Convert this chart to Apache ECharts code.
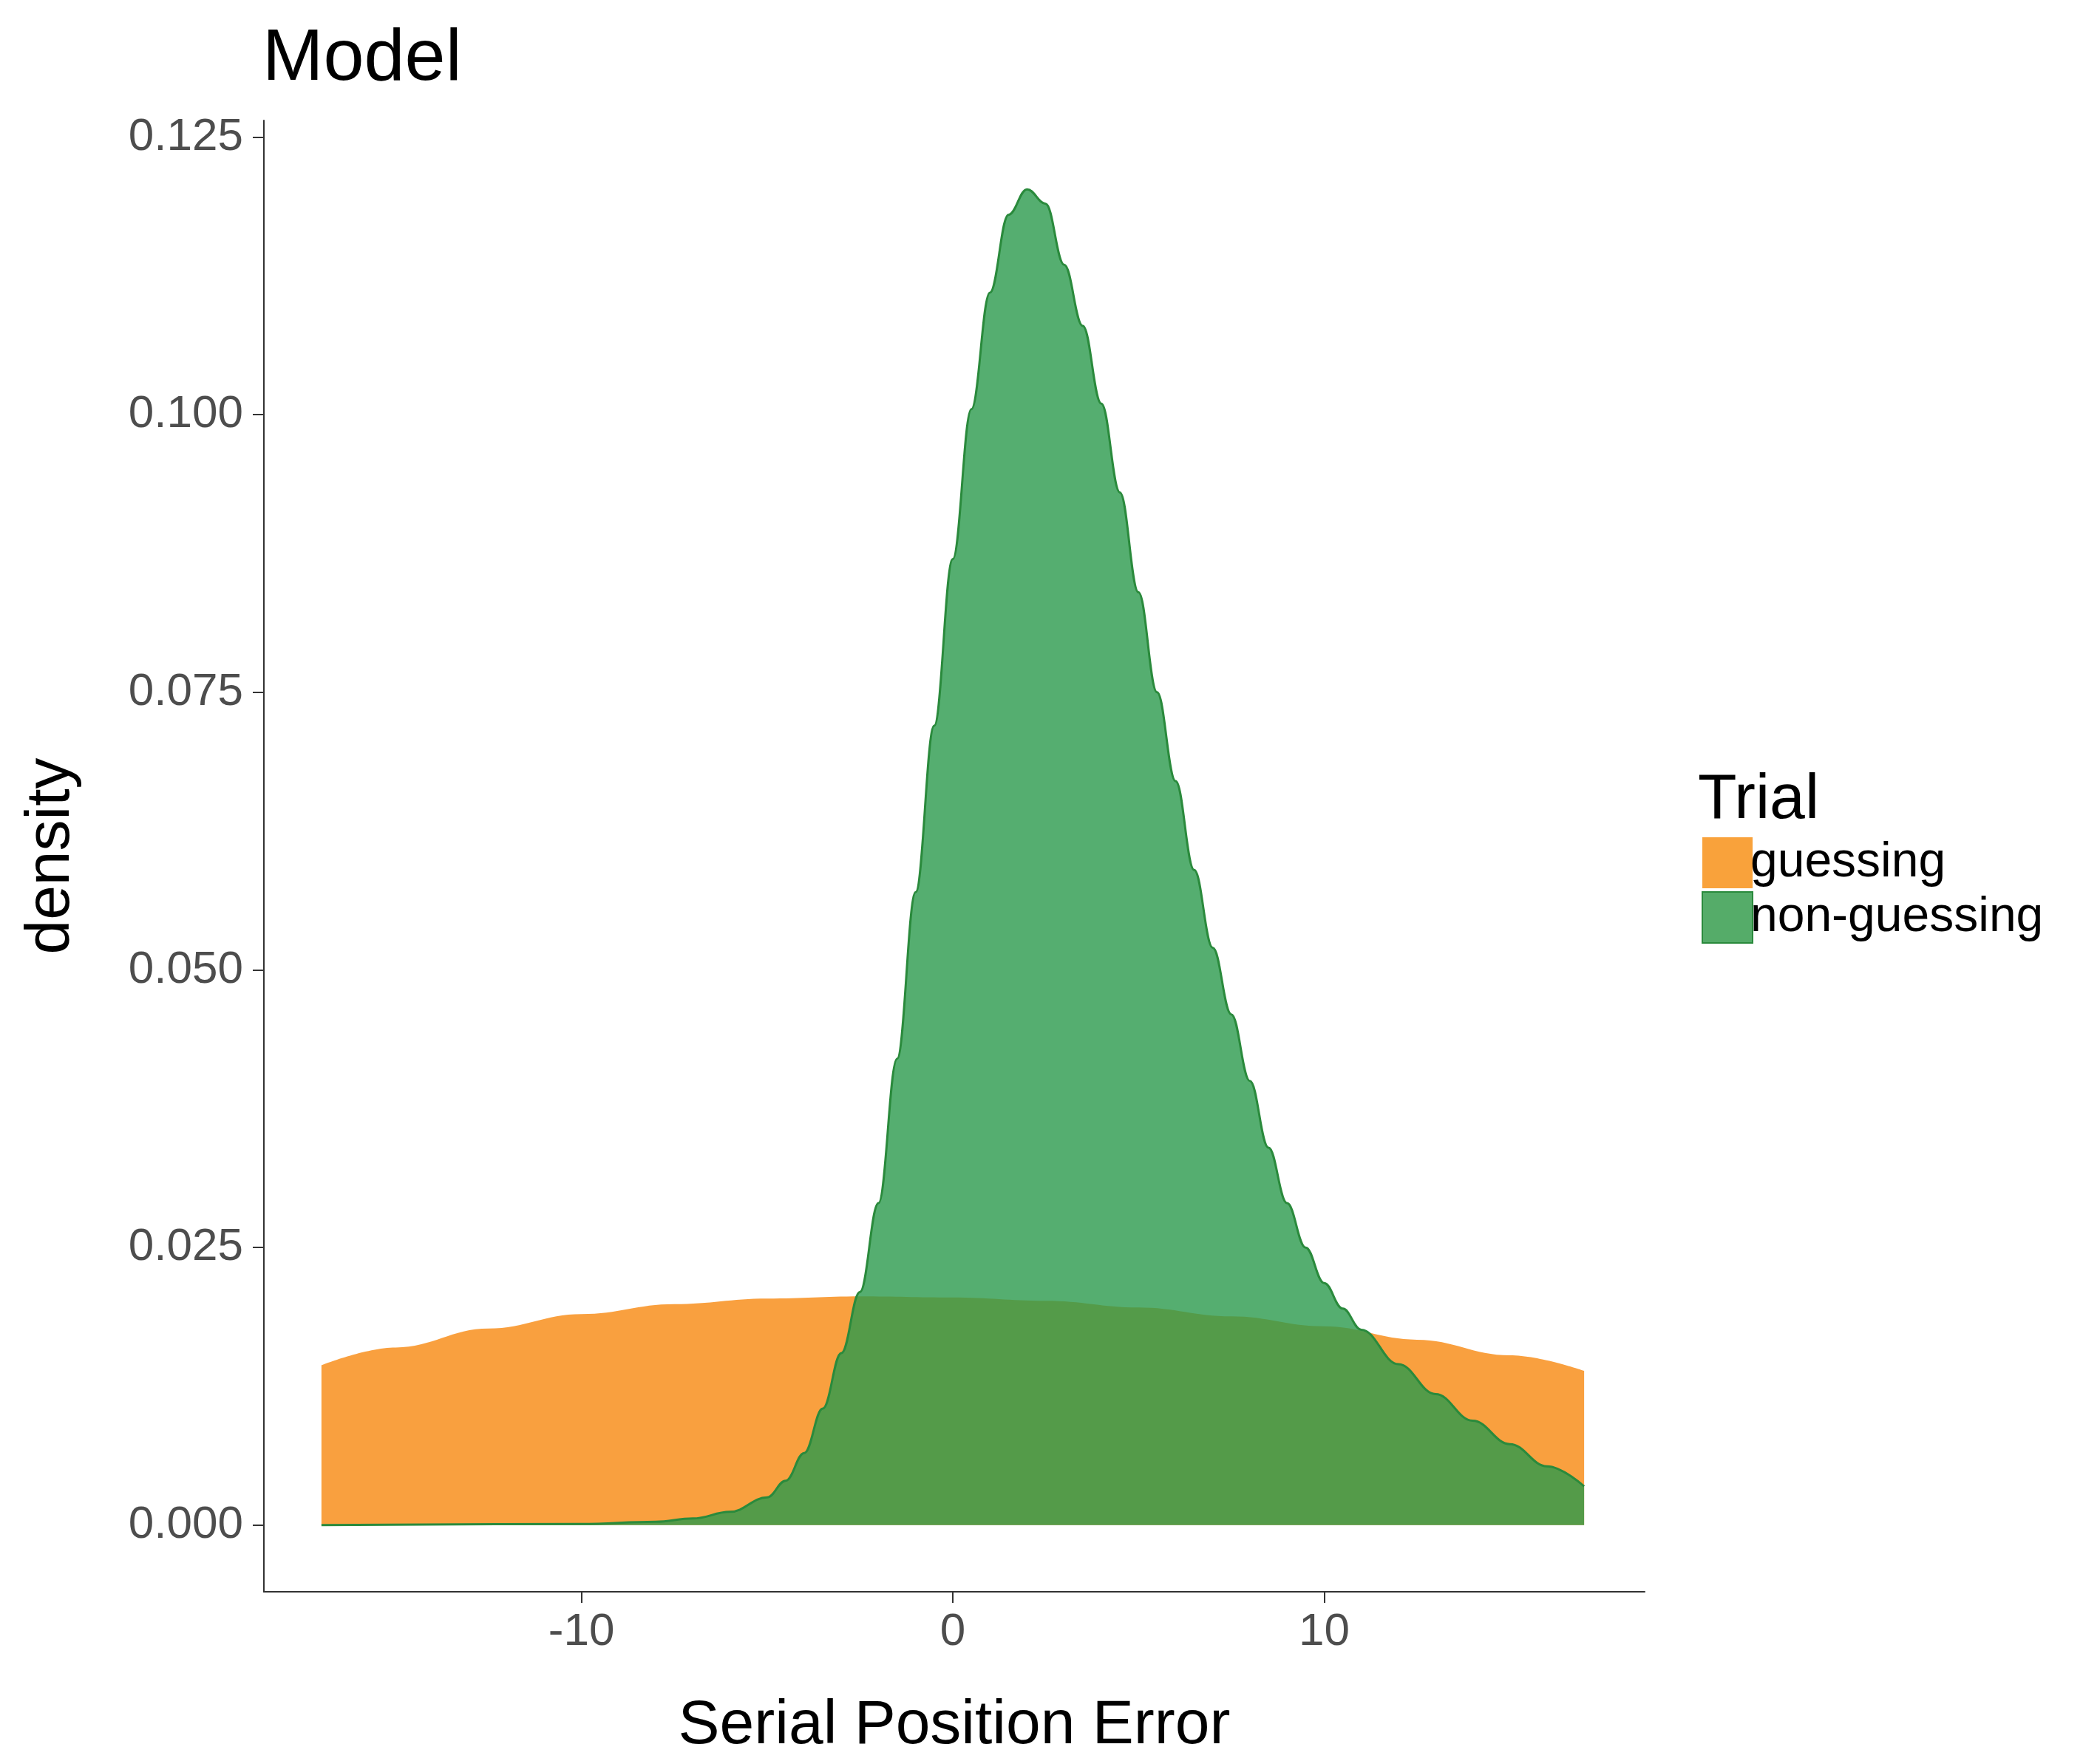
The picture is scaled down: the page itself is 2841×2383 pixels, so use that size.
<!DOCTYPE html>
<html>
<head>
<meta charset="utf-8">
<script src="https://cdn.jsdelivr.net/npm/echarts@6/dist/echarts.min.js"></script>
<style>html,body{margin:0;padding:0;background:#fff}#chartmain{width:2841px;height:2383px}</style>
</head>
<body>
<div id="chartmain"></div>
<script>
// values
var guessX = [-17, -15, -12.5, -10, -7.5, -5, -2.5, 0, 2.5, 5, 7.5, 10, 12.5, 15, 17];
var guessY = [0.0144, 0.0160, 0.0177, 0.0190, 0.0199, 0.0204, 0.0206, 0.0205, 0.0202, 0.0196, 0.0188, 0.0179, 0.0167, 0.0153, 0.0139];

var nonX = [-17, -10, -8, -7, -6, -5, -4.5, -4, -3.5, -3, -2.5, -2, -1.5, -1, -0.5, 0, 0.5, 1, 1.5, 2, 2.5, 3, 3.5, 4, 4.5, 5, 5.5, 6, 6.5, 7, 7.5, 8, 8.5, 9, 9.5, 10, 10.5, 11, 12, 13, 14, 15, 16, 17];
var nonY = [0, 0.0001, 0.0003, 0.0006, 0.0012, 0.0025, 0.004, 0.0065, 0.0105, 0.0155, 0.021, 0.029, 0.042, 0.057, 0.072, 0.087, 0.1005, 0.111, 0.118, 0.1203, 0.119, 0.1135, 0.108, 0.101, 0.093, 0.084, 0.075, 0.067, 0.059, 0.052, 0.046, 0.040, 0.034, 0.029, 0.025, 0.0218, 0.0195, 0.0176, 0.0145, 0.0118, 0.0094, 0.0073, 0.0053, 0.0035];

var yTicks = [0, 0.025, 0.05, 0.075, 0.1, 0.125];
var xTicks = [-10, 0, 10];

function pairs(xs, ys) {
    return xs.map(function (x, i) { return [x, ys[i]]; });
}

var myChart = echarts.init(document.getElementById('chartmain'));

var option = {
    backgroundColor: '#fff',
    animation: false,
    textStyle: { fontFamily: 'Liberation Sans, Arial, sans-serif' },
    title: {
        text: 'Model',
        left: 350, top: 26,
        textStyle: { fontSize: 99, fontWeight: 'normal', color: '#000' }
    },
    legend: {
        orient: 'vertical',
        left: 2297, top: 1128,
        itemWidth: 68, itemHeight: 69, itemGap: 4,
        icon: 'rect',
        textStyle: { fontSize: 66, color: '#000', padding: [0, 0, 0, -8] },
        data: ['guessing', 'non-guessing']
    },
    graphic: [{
        type: 'text', left: 2297, top: 1040,
        style: { text: 'Trial', fontSize: 86, fill: '#000', font: '86px Liberation Sans, Arial, sans-serif' }
    }],
    grid: { left: 357, right: 616, top: 163, bottom: 229 },
    xAxis: {
        type: 'value',
        min: -18.55, max: 18.63,
        name: 'Serial Position Error',
        nameLocation: 'middle', nameGap: 140,
        nameTextStyle: { fontSize: 84, color: '#000' },
        axisLine: { show: true, onZero: false, lineStyle: { color: '#333', width: 2 } },
        axisTick: { show: true, length: 15, customValues: xTicks, lineStyle: { color: '#333', width: 2 } },
        axisLabel: { fontSize: 62, color: '#4d4d4d', margin: 24, customValues: xTicks },
        splitLine: { show: false }
    },
    yAxis: {
        type: 'value',
        min: -0.006, max: 0.1265,
        name: 'density',
        nameLocation: 'middle', nameGap: 245,
        nameTextStyle: { fontSize: 84, color: '#000' },
        axisLine: { show: true, onZero: false, lineStyle: { color: '#333', width: 2 } },
        axisTick: { show: true, length: 15, customValues: yTicks, lineStyle: { color: '#333', width: 2 } },
        axisLabel: {
            fontSize: 62, color: '#4d4d4d', margin: 28, customValues: yTicks,
            formatter: function (v) { return v.toFixed(3); }
        },
        splitLine: { show: false }
    },
    series: [{
        name: 'guessing',
        type: 'line',
        smooth: 0.4,
        smoothMonotone: 'x',
        showSymbol: false,
        color: '#F8962A',
        lineStyle: { width: 0 },
        areaStyle: { color: '#F8962A', opacity: 0.9, origin: 0 },
        itemStyle: { color: '#F9A23B' },
        data: pairs(guessX, guessY)
    }, {
        name: 'non-guessing',
        type: 'line',
        smooth: 0.4,
        smoothMonotone: 'x',
        showSymbol: false,
        color: '#2A9A4C',
        lineStyle: { width: 3, color: '#2A8A3C' },
        areaStyle: { color: '#2A9A4C', opacity: 0.8, origin: 0 },
        itemStyle: { color: '#55AC69', borderColor: '#2A8A3C', borderWidth: 3 },
        data: pairs(nonX, nonY)
    }]
};

myChart.setOption(option);
</script>
</body>
</html>
